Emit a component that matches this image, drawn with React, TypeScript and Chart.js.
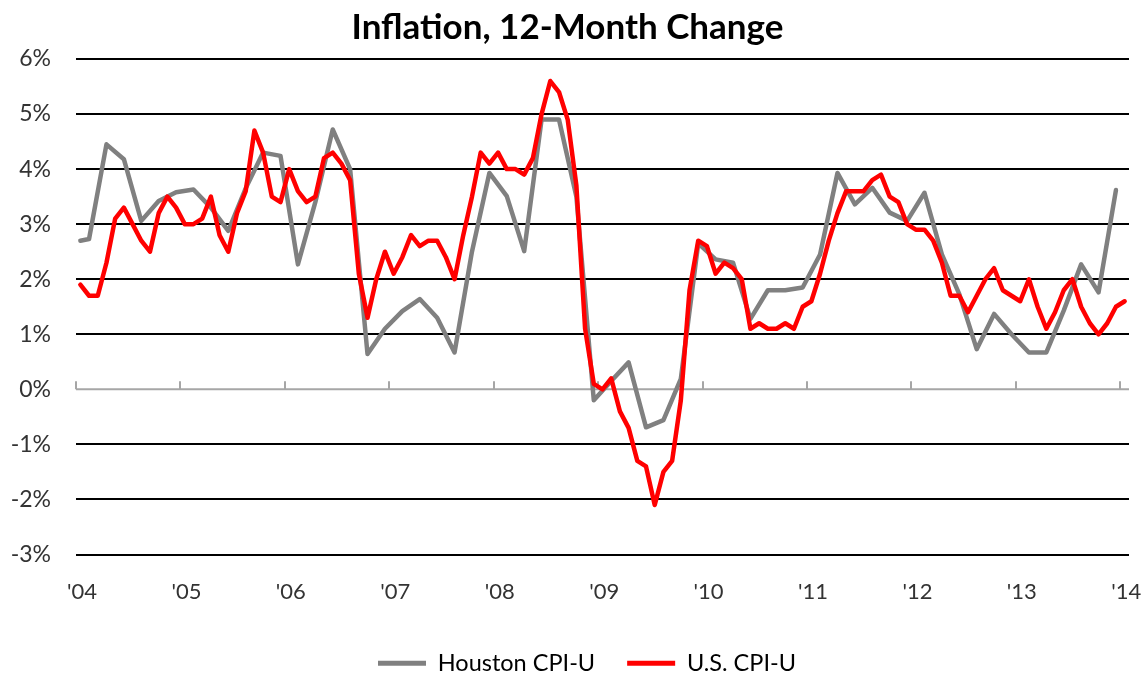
import { useEffect, useRef } from "react";
import { Chart, registerables } from "chart.js";

Chart.register(...registerables);

// Year tick labels (January of each year)
const yearLabels = ["'04", "'05", "'06", "'07", "'08", "'09", "'10", "'11", "'12", "'13", "'14"];

// U.S. CPI-U, 12-month % change, monthly Jan 2004 .. Jan 2014
const usCpi = [
  1.9, 1.7, 1.7, 2.3, 3.1, 3.3, 3.0, 2.7, 2.5, 3.2, 3.5, 3.3,
  3.0, 3.0, 3.1, 3.5, 2.8, 2.5, 3.2, 3.6, 4.7, 4.3, 3.5, 3.4,
  4.0, 3.6, 3.4, 3.5, 4.2, 4.3, 4.1, 3.8, 2.1, 1.3, 2.0, 2.5,
  2.1, 2.4, 2.8, 2.6, 2.7, 2.7, 2.4, 2.0, 2.8, 3.5, 4.3, 4.1,
  4.3, 4.0, 4.0, 3.9, 4.2, 5.0, 5.6, 5.4, 4.9, 3.7, 1.1, 0.1,
  0.0, 0.2, -0.4, -0.7, -1.3, -1.4, -2.1, -1.5, -1.3, -0.2, 1.8, 2.7,
  2.6, 2.1, 2.3, 2.2, 2.0, 1.1, 1.2, 1.1, 1.1, 1.2, 1.1, 1.5,
  1.6, 2.1, 2.7, 3.2, 3.6, 3.6, 3.6, 3.8, 3.9, 3.5, 3.4, 3.0,
  2.9, 2.9, 2.7, 2.3, 1.7, 1.7, 1.4, 1.7, 2.0, 2.2, 1.8, 1.7,
  1.6, 2.0, 1.5, 1.1, 1.4, 1.8, 2.0, 1.5, 1.2, 1.0, 1.2, 1.5,
  1.6,
];

// Houston CPI-U (bimonthly): month index since Jan 2004, and values
const houstonMonths = [
  0, 1, 3, 5, 7, 9, 11, 13, 15, 17, 19, 21, 23, 25, 27, 29, 31, 33, 35, 37, 39,
  41, 43, 45, 47, 49, 51, 53, 55, 57, 59, 61, 63, 65, 67, 69, 71, 73, 75, 77, 79,
  81, 83, 85, 87, 89, 91, 93, 95, 97, 99, 101, 103, 105, 107, 109, 111, 113, 115, 117, 119,
];
const houstonCpi = [
  2.7, 2.73, 4.45, 4.18, 3.06, 3.42, 3.58, 3.63, 3.3, 2.88, 3.65, 4.3, 4.24, 2.27, 3.4, 4.72, 4.0, 0.64, 1.1, 1.42, 1.64,
  1.3, 0.67, 2.5, 3.93, 3.51, 2.51, 4.9, 4.9, 3.5, -0.2, 0.15, 0.49, -0.69, -0.56, 0.19, 2.65, 2.36, 2.3, 1.28, 1.8,
  1.8, 1.85, 2.45, 3.93, 3.36, 3.66, 3.21, 3.06, 3.57, 2.45, 1.73, 0.73, 1.37, 1.0, 0.67, 0.67, 1.43, 2.27, 1.76, 3.62,
];

const FONT = "Lato, 'Open Sans', sans-serif";

export default function App() {
  const canvasRef = useRef<HTMLCanvasElement | null>(null);

  useEffect(() => {
    const canvas = canvasRef.current;
    if (!canvas) return;

    const zeroAxisPlugin = {
      id: "zeroAxis",
      afterLayout(chart: any) {
        // fine placement of title and legend blocks
        const t = chart.titleBlock;
        if (t) {
          const shift = 567.5 - (t.left + t.right) / 2;
          t.left += shift;
          t.right += shift;
        }
        const lg = chart.legend;
        if (lg && lg.lineWidths) {
          const pad = lg.options.labels.padding;
          const cur = (lg.left + pad + lg.right - lg.lineWidths[0]) / 2;
          const shift = 378 - cur;
          lg.left += shift;
          lg.right += shift;
        }
      },
      beforeDatasetsDraw(chart: any) {
        const { ctx, scales, chartArea } = chart;
        const x = scales.x;
        const y = scales.y;
        const y0 = y.getPixelForValue(0);
        ctx.save();
        ctx.strokeStyle = "#A6A6A6";
        ctx.lineWidth = 2;
        ctx.beginPath();
        ctx.moveTo(chartArea.left, y0);
        ctx.lineTo(chartArea.right, y0);
        yearLabels.forEach((_, i) => {
          const px = Math.round(x.getPixelForValue(i * 12 - 0.5));
          ctx.moveTo(px, y0);
          ctx.lineTo(px, y0 - 8);
        });
        ctx.stroke();
        ctx.restore();
      },
    };

    const chart = new Chart(canvas, {
      type: "line",
      data: {
        datasets: [
          {
            label: "U.S. CPI-U",
            data: usCpi.map((v, i) => ({ x: i, y: v })),
            borderColor: "#FF0000",
            backgroundColor: "#FF0000",
            borderWidth: 4.5,
            pointRadius: 0,
            tension: 0,
            borderJoinStyle: "round",
            borderCapStyle: "round",
          },
          {
            label: "Houston CPI-U",
            data: houstonMonths.map((m, i) => ({ x: m, y: houstonCpi[i] })),
            borderColor: "#808080",
            backgroundColor: "#808080",
            borderWidth: 4.5,
            pointRadius: 0,
            tension: 0,
            borderJoinStyle: "round",
            borderCapStyle: "round",
          },
        ],
      },
      plugins: [zeroAxisPlugin],
      options: {
        responsive: false,
        animation: false,
        devicePixelRatio: 1,
        layout: { padding: { left: 0, right: 17, top: 0, bottom: -10 } },
        plugins: {
          title: {
            display: true,
            text: "Inflation, 12-Month Change",
            color: "#000",
            font: { family: FONT, size: 35, weight: "bold" },
            padding: { top: 7, bottom: 10 },
          },
          legend: {
            display: true,
            position: "bottom",
            reverse: true,
            labels: {
              boxWidth: 48,
              boxHeight: 5,
              color: "#000",
              padding: 32,
              font: { family: FONT, size: 23.5 },
              generateLabels: (c: any) =>
                Chart.defaults.plugins.legend.labels
                  .generateLabels(c)
                  .map((l: any) => ({ ...l, lineWidth: 0 })),
            },
          },
          tooltip: { enabled: false },
        },
        scales: {
          x: {
            type: "linear",
            min: -0.5,
            max: 120.5,
            afterBuildTicks: (scale: any) => {
              scale.ticks = yearLabels.map((_, i) => ({ value: i * 12 - 0.5 }));
            },
            afterFit: (scale: any) => {
              scale.height = 65;
            },
            grid: { display: false, drawTicks: true, tickLength: 24 },
            border: { display: false },
            ticks: {
              autoSkip: false,
              maxRotation: 0,
              padding: 0,
              labelOffset: 6,
              color: "#333",
              font: { family: FONT, size: 22 },
              callback: (value: any) => yearLabels[Math.round((Number(value) + 0.5) / 12)],
            },
          },
          y: {
            min: -3,
            max: 6,
            afterFit: (scale: any) => {
              scale.width = 76;
            },
            grid: {
              drawTicks: false,
              lineWidth: 2,
              color: (ctx: any) => (ctx.tick && ctx.tick.value === 0 ? "rgba(0,0,0,0)" : "#000"),
            },
            border: { display: false },
            ticks: {
              stepSize: 1,
              padding: 25,
              color: "#333",
              font: { family: FONT, size: 23 },
              callback: (value: any) => `${value}%`,
            },
          },
        },
      },
    } as any);

    return () => {
      chart.destroy();
    };
  }, []);

  return (
    <div style={{ position: "fixed", left: 0, top: 0, width: 1146, height: 675, background: "#fff" }}>
      <canvas ref={canvasRef} width={1146} height={675} />
    </div>
  );
}
